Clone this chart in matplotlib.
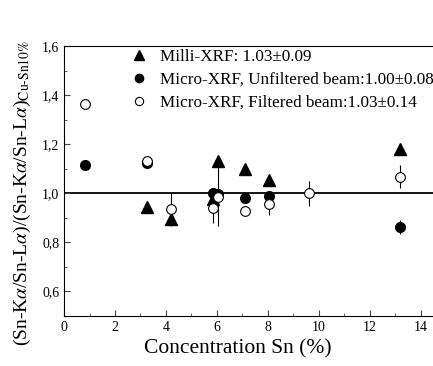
import matplotlib
matplotlib.use('Agg')
import matplotlib.pyplot as plt

plt.rcParams['font.family'] = ['Liberation Serif', 'DejaVu Serif']
plt.rcParams['mathtext.fontset'] = 'stix'

# Milli-XRF
milli_x = [3.27, 4.2, 5.86, 6.06, 7.1, 8.06, 13.19]
milli_y = [0.942, 0.897, 0.975, 1.13, 1.098, 1.053, 1.182]
milli_err = [0.0, 0.03, 0.0, 0.0, 0.0, 0.0, 0.0]

# Micro-XRF unfiltered
unf_x = [0.82, 3.27, 5.86, 6.06, 7.1, 8.06, 13.19]
unf_y = [1.117, 1.124, 1.0, 0.995, 0.98, 0.99, 0.862]
unf_err = [0.0, 0.0, 0.0, 0.0, 0.0, 0.0, 0.027]

# Micro-XRF filtered
fil_x = [0.82, 3.27, 4.2, 5.84, 6.06, 7.1, 8.06, 9.63, 13.19]
fil_y = [1.363, 1.13, 0.935, 0.94, 0.985, 0.926, 0.958, 1.0, 1.067]
fil_err = [0.0, 0.0, 0.065, 0.06, 0.12, 0.0, 0.047, 0.05, 0.047]

fig = plt.figure(figsize=(4.33, 3.66), dpi=100)
ax = fig.add_axes([0.148, 0.137, 0.852, 0.737])

ax.axhline(1.0, color='black', lw=1.3, zorder=1)

# error bars
for x, y, e in [(milli_x, milli_y, milli_err), (unf_x, unf_y, unf_err),
                (fil_x, fil_y, fil_err)]:
    ax.errorbar(x, y, yerr=e, fmt='none', ecolor='black', elinewidth=0.8,
                capsize=0, zorder=2)

ax.plot(milli_x, milli_y, '^', color='black', ms=8.5, ls='none',
        label='Milli-XRF: 1.03±0.09', zorder=3)
ax.plot(unf_x, unf_y, 'o', color='black', ms=7, ls='none',
        label='Micro-XRF, Unfiltered beam:1.00±0.08', zorder=3)
ax.plot(fil_x, fil_y, 'o', mfc='white', mec='black', ms=7, mew=0.8,
        ls='none', label='Micro-XRF, Filtered beam:1.03±0.14', zorder=4)

ax.set_xlim(0, 14.49)
ax.set_ylim(0.5, 1.6)
ax.set_xticks(range(0, 15, 2))
ax.set_xticks(range(1, 15, 2), minor=True)
ax.set_yticks([0.6, 0.8, 1.0, 1.2, 1.4, 1.6])
ax.set_yticklabels(['0,6', '0,8', '1,0', '1,2', '1,4', '1,6'])
ax.set_yticks([0.5, 0.7, 0.9, 1.1, 1.3, 1.5], minor=True)
ax.tick_params(direction='in', labelsize=10, length=4, color='#444444')
ax.tick_params(which='minor', direction='in', length=2.5, color='#444444')
ax.spines['right'].set_visible(False)
for s in ['left', 'bottom', 'top']:
    ax.spines[s].set_linewidth(0.8)

ax.set_xlabel('Concentration Sn (%)', fontsize=15.5, labelpad=5)
ax.xaxis.set_label_coords(0.471, -0.085)
ax.set_ylabel(r'(Sn-K$\alpha$/Sn-L$\alpha$)/(Sn-K$\alpha$/Sn-L$\alpha$)'
              r'$_{\mathrm{Cu\text{-}Sn10\%}}$', fontsize=14)
ax.yaxis.set_label_coords(-0.085, 0.455)

ax.legend(loc='upper left', bbox_to_anchor=(0.155, 1.015), frameon=False,
          fontsize=12.3, handletextpad=0.55, labelspacing=0.4,
          borderaxespad=0.0, handlelength=1.3, markerscale=0.85)

fig.savefig('out.png', dpi=100)
